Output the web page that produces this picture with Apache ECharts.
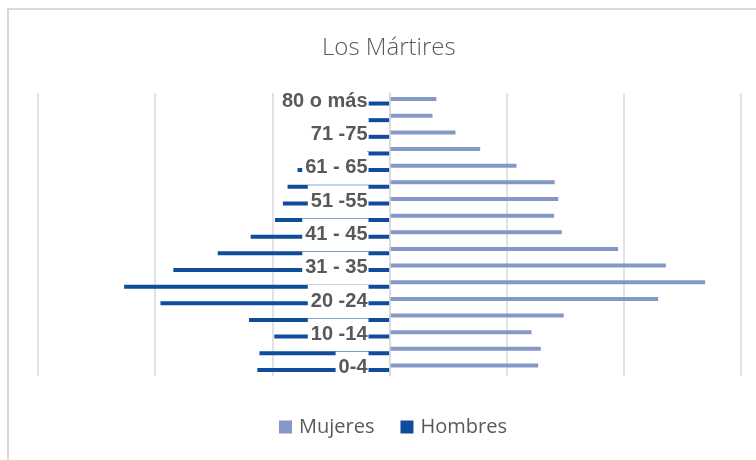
<!DOCTYPE html>
<html>
<head>
<meta charset="utf-8">
<script src="https://cdn.jsdelivr.net/npm/echarts@6/dist/echarts.min.js"></script>
<style>
    html, body { margin: 0; padding: 0; background: #fff; }
    #frame {
        position: absolute; left: 7px; top: 8px; right: -2px; bottom: -2px;
        border-top: 2px solid #d9d9d9; border-left: 2px solid #d9d9d9;
    }
    #chart01 { position: absolute; left: 0; top: 0; width: 756px; height: 460px; }
</style>
</head>
<body>
<div id="frame"></div>
<div id="chart01"></div>
<script>
// grupos de edad, de abajo hacia arriba
var categorias = ['0-4', '5-9', '10 -14', '15-19', '20 -24', '25-29', '31 - 35', '36-40', '41 - 45',
    '46-50', '51 -55', '56-60', '61 - 65', '66-70', '71 -75', '76-80', '80 o más'];
var mujeres = [1269, 1291, 1212, 1487, 2293, 2694, 2358, 1951, 1470,
    1405, 1440, 1410, 1084, 774, 563, 367, 400];
var hombres = [1128, 1110, 983, 1199, 1955, 2265, 1845, 1466, 1185,
    977, 910, 870, 785, 190, 180, 180, 180];
var escala = [-3000, 3000, 1000];

function chart01(id) {
    var myChart = echarts.init(document.getElementById(id), null, {renderer: 'canvas'});
    var gridLeft = 38;
    var option = {
        animation: false,
        title: {
            text: 'Los Mártires',
            left: 317,
            top: 31,
            textStyle: {
                fontFamily: 'Open Sans',
                fontWeight: 300,
                fontSize: 24,
                color: '#595959'
            }
        },
        grid: {
            left: gridLeft,
            right: 15,
            top: 93,
            bottom: 84,
            containLabel: false,
            outerBoundsMode: 'none'
        },
        legend: {
            top: 412,
            left: 274,
            icon: 'rect',
            itemWidth: 13,
            itemHeight: 13,
            itemGap: 26,
            textStyle: {
                fontFamily: 'Open Sans',
                fontSize: 20,
                color: '#595959',
                padding: [0, 0, 0, 2]
            },
            data: ['Mujeres', 'Hombres']
        },
        xAxis: {
            type: 'value',
            min: escala[0],
            max: escala[1],
            interval: escala[2],
            axisLine: { show: false },
            axisTick: { show: false },
            axisLabel: { show: false },
            splitLine: {
                show: true,
                lineStyle: { color: '#d9d9d9', width: 1.5 }
            }
        },
        yAxis: {
            type: 'category',
            z: 10,
            offset: 0,
            data: categorias,
            axisLine: {
                show: true,
                onZero: false,
                lineStyle: { color: '#d9d9d9', width: 1.5 }
            },
            axisTick: { show: false },
            splitLine: { show: false },
            axisLabel: {
                interval: 1,
                showMinLabel: true,
                showMaxLabel: true,
                margin: 21,
                fontFamily: 'Liberation Sans',
                fontWeight: 'bold',
                fontSize: 20,
                color: '#595959',
                backgroundColor: '#ffffff',
                padding: [6, 1, 6, 3]
            }
        },
        series: [
            {
                name: 'Mujeres',
                type: 'bar',
                barWidth: 4,
                barGap: '10%',
                itemStyle: { color: '#8497c6' },
                data: mujeres
            },
            {
                name: 'Hombres',
                type: 'bar',
                barWidth: 4,
                barGap: '10%',
                itemStyle: { color: '#0f4c9c' },
                data: hombres.map(function (v) { return -v; })
            }
        ]
    };

    myChart.setOption(option);
    // mover el eje de categorías al cero del eje de valores
    var x0 = myChart.convertToPixel({xAxisIndex: 0}, 0);
    myChart.setOption({ yAxis: { offset: gridLeft - x0 } });
    return myChart;
}

var chartInit01 = chart01('chart01');
window.addEventListener('resize', function () {
    chartInit01.resize();
});
</script>
</body>
</html>
